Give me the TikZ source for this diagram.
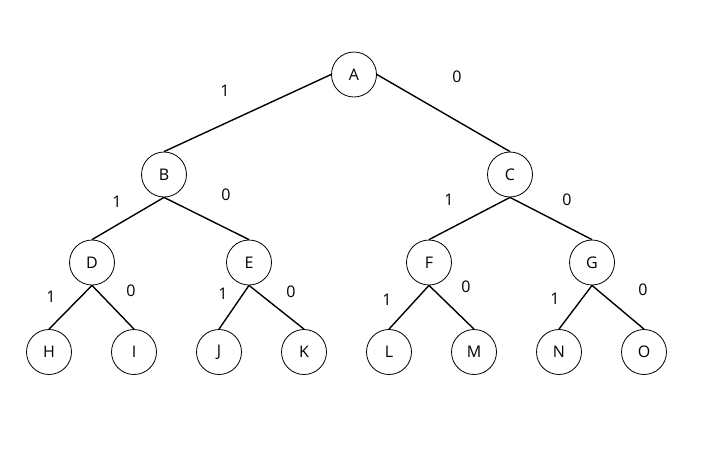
\documentclass[tikz,border=0pt]{standalone}
\usepackage{fontspec}
\setmainfont{Open Sans}
\usetikzlibrary{positioning}
\tikzset{
  vertex/.style={circle,draw,line width=0.8pt,minimum size=45pt,
                 inner sep=0pt,font=\fontsize{16}{16}\selectfont},
  bit/.style   ={font=\fontsize{16}{16}\selectfont,inner sep=0pt},
  edge/.style  ={line width=1.4pt}
}
\begin{document}
\begin{tikzpicture}[x=1pt,y=-1pt]
  \useasboundingbox (0,0) rectangle (721,459);

  % Root and first level
  \node (A) at (354,74.5) [vertex] {A};
  \node (B) at (164,174.5) [vertex] {B};
  \node (C) at (510,174.5) [vertex] {C};

  % Second level
  \node (D) at (92,262.5)  [vertex] {D};
  \node (E) at (249,262.5) [vertex] {E};
  \node (F) at (429,262.5) [vertex] {F};
  \node (G) at (592,262.5) [vertex] {G};

  % Leaves
  \node (H) at (49,352)  [vertex] {H};
  \node (I) at (134,352) [vertex] {I};
  \node (J) at (219,352) [vertex] {J};
  \node (K) at (304,352) [vertex] {K};
  \node (L) at (389,352) [vertex] {L};
  \node (M) at (474,352) [vertex] {M};
  \node (N) at (559,352) [vertex] {N};
  \node (O) at (644,352) [vertex] {O};

  % Edges
  \draw[edge] (A.west) -- (B.north);
  \draw[edge] (A.east) -- (C.north);
  \draw[edge] (B.south) -- (D.north);
  \draw[edge] (B.south) -- (E.north);
  \draw[edge] (C.south) -- (F.north);
  \draw[edge] (C.south) -- (G.north);
  \draw[edge] (D.south) -- (H.north);
  \draw[edge] (D.south) -- (I.north);
  \draw[edge] (E.south) -- (J.north);
  \draw[edge] (E.south) -- (K.north);
  \draw[edge] (F.south) -- (L.north);
  \draw[edge] (F.south) -- (M.north);
  \draw[edge] (G.south) -- (N.north);
  \draw[edge] (G.south) -- (O.north);

  % Edge bits
  \node (bAB) at (225,91)  [bit] {1};
  \node (bAC) at (457,77)  [bit] {0};
  \node (bBD) at (117,202) [bit] {1};
  \node (bBE) at (226,195) [bit] {0};
  \node (bCF) at (449,200) [bit] {1};
  \node (bCG) at (567,200) [bit] {0};
  \node (bDH) at (51,297)  [bit] {1};
  \node (bDI) at (131,291) [bit] {0};
  \node (bEJ) at (223,294) [bit] {1};
  \node (bEK) at (291,292) [bit] {0};
  \node (bFL) at (387,300) [bit] {1};
  \node (bFM) at (466,287) [bit] {0};
  \node (bGN) at (555,299) [bit] {1};
  \node (bGO) at (643,290) [bit] {0};
\end{tikzpicture}
\end{document}
